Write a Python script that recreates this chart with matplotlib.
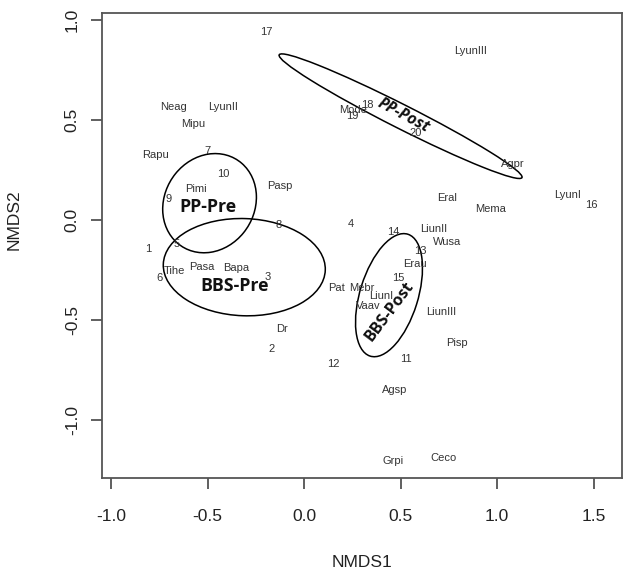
import numpy as np
import matplotlib.pyplot as plt
from matplotlib.patches import Ellipse

# site scores (numbered samples)
sites = ['1', '2', '3', '4', '5', '6', '7', '8', '9', '10',
         '11', '12', '13', '14', '15', '16', '17', '18', '19', '20']
site_x = [-0.81, -0.17, -0.19, 0.24, -0.66, -0.75, -0.50, -0.13, -0.70, -0.42,
          0.53, 0.15, 0.60, 0.46, 0.49, 1.49, -0.195, 0.33, 0.25, 0.58]
site_y = [-0.145, -0.645, -0.285, -0.02, -0.12, -0.29, 0.345, -0.025, 0.105, 0.23,
          -0.695, -0.72, -0.155, -0.06, -0.29, 0.075, 0.94, 0.575, 0.52, 0.435]

# species scores
species = ['LyunIII', 'Neag', 'LyunII', 'Mipu', 'Mode', 'Agpr', 'Rapu', 'Pasp',
           'Pimi', 'Eral', 'Mema', 'LyunI', 'LiunII', 'Wusa', 'Erau', 'Tihe',
           'Pasa', 'Bapa', 'Pat', 'Mebr', 'LiunI', 'Vaav', 'LiunIII', 'Pisp',
           'Dr', 'Agsp', 'Grpi', 'Ceco']
sp_x = [0.865, -0.675, -0.42, -0.575, 0.255, 1.08, -0.77, -0.125,
        -0.56, 0.74, 0.965, 1.365, 0.67, 0.74, 0.575, -0.67,
        -0.53, -0.35, 0.17, 0.30, 0.40, 0.33, 0.71, 0.79,
        -0.115, 0.47, 0.46, 0.72]
sp_y = [0.845, 0.565, 0.565, 0.48, 0.55, 0.28, 0.325, 0.17,
        0.155, 0.11, 0.055, 0.125, -0.045, -0.11, -0.22, -0.255,
        -0.235, -0.24, -0.34, -0.34, -0.38, -0.43, -0.46, -0.615,
        -0.545, -0.85, -1.205, -1.19]

# group ellipses: centre, semi-axes, angle, label position, label rotation
groups = ['PP-Pre', 'BBS-Pre', 'PP-Post', 'BBS-Post']
grp_cx = [-0.49, -0.31, 0.50, 0.44]
grp_cy = [0.085, -0.235, 0.52, -0.375]
grp_a = [0.26, 0.42, 0.70, 0.32]
grp_b = [0.23, 0.243, 0.06, 0.15]
grp_ang = [50, -2, -26, 72]
lab_x = [-0.50, -0.36, 0.515, 0.445]
lab_y = [0.065, -0.33, 0.52, -0.455]
lab_rot = [0, 0, -28, 53]
lab_style = ['normal', 'normal', 'italic', 'normal']
lab_size = [12.8, 12.8, 11.5, 11.5]

fig = plt.figure(figsize=(6.42, 5.74), dpi=100)
ax = fig.add_axes([0.159, 0.167, 0.81, 0.81])

for s, x, y in zip(sites, site_x, site_y):
    ax.text(x, y, s, ha='center', va='center', fontsize=8,
            family='Liberation Sans', color='#333333')
for s, x, y in zip(species, sp_x, sp_y):
    ax.text(x, y, s, ha='center', va='center', fontsize=8,
            family='Liberation Sans', color='#333333')

for i in range(len(groups)):
    e = Ellipse((grp_cx[i], grp_cy[i]), 2 * grp_a[i], 2 * grp_b[i], angle=grp_ang[i],
                fill=False, edgecolor='black', linewidth=1.1)
    ax.add_patch(e)
    ax.text(lab_x[i], lab_y[i], groups[i], ha='center', va='center',
            fontsize=lab_size[i], fontweight='bold', style=lab_style[i],
            family='Open Sans', rotation=lab_rot[i], color='#111111')

ax.set_xlim(-1.047, 1.648)
ax.set_ylim(-1.29, 1.035)
ax.set_xticks([-1.0, -0.5, 0.0, 0.5, 1.0, 1.5])
ax.set_yticks([-1.0, -0.5, 0.0, 0.5, 1.0])
ax.set_xticklabels(['-1.0', '-0.5', '0.0', '0.5', '1.0', '1.5'])
ax.set_yticklabels(['-1.0', '-0.5', '0.0', '0.5', '1.0'], rotation=90, va='center')

for sp in ax.spines.values():
    sp.set_color('#555555')
    sp.set_linewidth(1.3)
ax.tick_params(length=8, width=1.2, color='#444444', labelsize=12.5,
               labelcolor='#222222')
ax.tick_params(axis='x', pad=14)
ax.tick_params(axis='y', pad=8)
for t in ax.get_xticklabels() + ax.get_yticklabels():
    t.set_family('Liberation Sans')

ax.set_xlabel('NMDS1', fontsize=12.5, family='Liberation Sans', color='#222222')
ax.set_ylabel('NMDS2', fontsize=12.5, family='Liberation Sans', color='#222222')
ax.xaxis.set_label_coords(0.5, -0.166)
ax.yaxis.set_label_coords(-0.155, 0.555)

fig.savefig('out.png', dpi=100)
